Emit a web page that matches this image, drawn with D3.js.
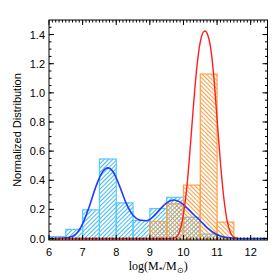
<!DOCTYPE html>
<meta charset="utf-8">
<style>
    body { margin: 0; background: #fff; }
    svg { display: block; }
    .tick-label { font-family: "Liberation Sans", Arial, sans-serif; font-size: 11px; fill: #000; }
</style>
<svg width="280" height="280"></svg>
<script src="https://cdn.jsdelivr.net/npm/d3@7"></script>
<script>
    // histogram bins, width 0.5 in log mass
    var binStarts = [6.0, 6.5, 7.0, 7.5, 8.0, 8.5, 9.0, 9.5, 10.0, 10.5, 11.0];
    var blueHeights = [0.014, 0.063, 0.197, 0.546, 0.245, 0.124, 0.206, 0.283, 0.146, 0.03, 0.006];
    var orangeHeights = [0, 0, 0, 0, 0, 0, 0.117, 0.239, 0.367, 1.129, 0.113];

    // fitted curves
    var blueCurveX = [6.0, 6.4, 6.6, 6.8, 7.0, 7.2, 7.4, 7.6, 7.75, 7.9, 8.1, 8.3, 8.5, 8.7, 8.9, 9.1, 9.3, 9.5, 9.7, 9.9, 10.1, 10.3, 10.5, 10.7, 10.9, 11.1, 11.3, 11.5, 11.8, 12.5];
    var blueCurveY = [0.0, 0.002, 0.008, 0.03, 0.10, 0.22, 0.36, 0.46, 0.485, 0.46, 0.36, 0.24, 0.16, 0.127, 0.122, 0.15, 0.2, 0.245, 0.265, 0.25, 0.21, 0.165, 0.122, 0.075, 0.04, 0.018, 0.007, 0.002, 0.0, 0.0];
    var redCurveX = [6.0, 9.5, 9.7, 9.8, 9.9, 10.0, 10.1, 10.2, 10.3, 10.4, 10.5, 10.6, 10.65, 10.7, 10.8, 10.9, 11.0, 11.1, 11.2, 11.3, 11.4, 11.5, 11.6];
    var redCurveY = [0.0, 0.0, 0.003, 0.012, 0.06, 0.17, 0.35, 0.62, 0.92, 1.18, 1.35, 1.42, 1.425, 1.41, 1.32, 1.12, 0.82, 0.52, 0.28, 0.12, 0.04, 0.01, 0.0];

    var xTicks = [6, 7, 8, 9, 10, 11, 12];
    var yTicks = [0.0, 0.2, 0.4, 0.6, 0.8, 1.0, 1.2, 1.4];

    var svg = d3.select("svg");
    var pLeft = 49, pRight = 267.5, pTop = 20, pBottom = 240;

    var x = d3.scaleLinear().domain([6, 12.5]).range([pLeft, pRight]);
    var y = d3.scaleLinear().domain([-0.01, 1.5]).range([pBottom, pTop]);

    var defs = svg.append("defs");
    function hatch(id, color, angle) {
        var p = defs.append("pattern")
            .attr("id", id)
            .attr("patternUnits", "userSpaceOnUse")
            .attr("width", 3)
            .attr("height", 3)
            .attr("patternTransform", "rotate(" + angle + ")");
        p.append("line")
            .attr("x1", 0.5).attr("y1", 0)
            .attr("x2", 0.5).attr("y2", 3)
            .attr("stroke", color)
            .attr("stroke-width", 1);
    }
    hatch("hatchBlue", "#3cbcf5", 45);
    hatch("hatchOrange", "#ff9a3c", -45);

    defs.append("clipPath").attr("id", "clip")
        .append("rect").attr("x", pLeft).attr("y", pTop)
        .attr("width", pRight - pLeft).attr("height", pBottom - pTop);

    var bars = svg.append("g").attr("clip-path", "url(#clip)");

    bars.selectAll("rect.blue")
        .data(binStarts)
        .enter().append("rect")
        .attr("class", "blue")
        .attr("x", function(d) { return x(d); })
        .attr("width", function(d) { return x(d + 0.5) - x(d); })
        .attr("y", function(d, i) { return y(blueHeights[i]); })
        .attr("height", function(d, i) { return y(0) - y(blueHeights[i]); })
        .attr("fill", "url(#hatchBlue)")
        .attr("stroke", "#55c8ff")
        .attr("stroke-width", 1.2);

    bars.selectAll("rect.orange")
        .data(binStarts.filter(function(d, i) { return orangeHeights[i] > 0; }))
        .enter().append("rect")
        .attr("class", "orange")
        .attr("x", function(d) { return x(d); })
        .attr("width", function(d) { return x(d + 0.5) - x(d); })
        .attr("y", function(d) { return y(orangeHeights[binStarts.indexOf(d)]); })
        .attr("height", function(d) { return y(0) - y(orangeHeights[binStarts.indexOf(d)]); })
        .attr("fill", "url(#hatchOrange)")
        .attr("stroke", "#ffa04a")
        .attr("stroke-width", 1.2);

    var line = d3.line()
        .x(function(d) { return x(d[0]); })
        .y(function(d) { return y(d[1]); })
        .curve(d3.curveMonotoneX);

    bars.append("path")
        .datum(d3.zip(blueCurveX, blueCurveY))
        .attr("d", line)
        .attr("fill", "none")
        .attr("stroke", "#1f3bff")
        .attr("stroke-width", 1.6);

    bars.append("path")
        .datum(d3.zip(redCurveX, redCurveY))
        .attr("d", line)
        .attr("fill", "none")
        .attr("stroke", "#ff1e1e")
        .attr("stroke-width", 1.4);

    // frame with inward ticks on all sides
    var axes = svg.append("g").attr("stroke", "#000").attr("stroke-width", 1);
    axes.append("rect")
        .attr("x", pLeft).attr("y", pTop)
        .attr("width", pRight - pLeft).attr("height", pBottom - pTop)
        .attr("fill", "none");

    var xMinor = d3.range(61, 125).map(function(d) { return d / 10; });
    var yMinor = d3.range(0, 30).map(function(d) { return d * 0.05; });

    function xTick(v, len) {
        axes.append("line").attr("x1", x(v)).attr("x2", x(v)).attr("y1", pBottom).attr("y2", pBottom - len);
        axes.append("line").attr("x1", x(v)).attr("x2", x(v)).attr("y1", pTop).attr("y2", pTop + len);
    }
    function yTick(v, len) {
        axes.append("line").attr("y1", y(v)).attr("y2", y(v)).attr("x1", pLeft).attr("x2", pLeft + len);
        axes.append("line").attr("y1", y(v)).attr("y2", y(v)).attr("x1", pRight).attr("x2", pRight - len);
    }
    xMinor.forEach(function(v) { xTick(v, 2.5); });
    xTicks.forEach(function(v) { xTick(v, 5); });
    yMinor.forEach(function(v) { yTick(v, 2.5); });
    yTicks.forEach(function(v) { yTick(v, 5); });

    svg.append("g").selectAll("text")
        .data(xTicks)
        .enter().append("text")
        .attr("class", "tick-label")
        .attr("x", function(d) { return x(d); })
        .attr("y", 256)
        .attr("text-anchor", "middle")
        .text(function(d) { return d; });

    svg.append("g").selectAll("text")
        .data(yTicks)
        .enter().append("text")
        .attr("class", "tick-label")
        .attr("x", 45)
        .attr("y", function(d) { return y(d) + 4; })
        .attr("text-anchor", "end")
        .text(function(d) { return d.toFixed(1); });

    svg.append("text")
        .attr("transform", "translate(21," + (pTop + pBottom) / 2 + ") rotate(-90)")
        .attr("text-anchor", "middle")
        .style("font-family", "'Liberation Sans', Arial, sans-serif")
        .style("font-size", "11px")
        .text("Normalized Distribution");

    var xl = svg.append("text")
        .attr("x", (pLeft + pRight) / 2)
        .attr("y", 270)
        .attr("text-anchor", "middle")
        .style("font-family", "'Liberation Serif', 'Times New Roman', serif")
        .style("font-size", "12px");
    xl.append("tspan").text("log(M");
    xl.append("tspan").attr("dy", 3).style("font-size", "8px").text("*");
    xl.append("tspan").attr("dy", -3).text("/M");
    xl.append("tspan").attr("dy", 3).style("font-size", "8px").text("⊙");
    xl.append("tspan").attr("dy", -3).text(")");
</script>
